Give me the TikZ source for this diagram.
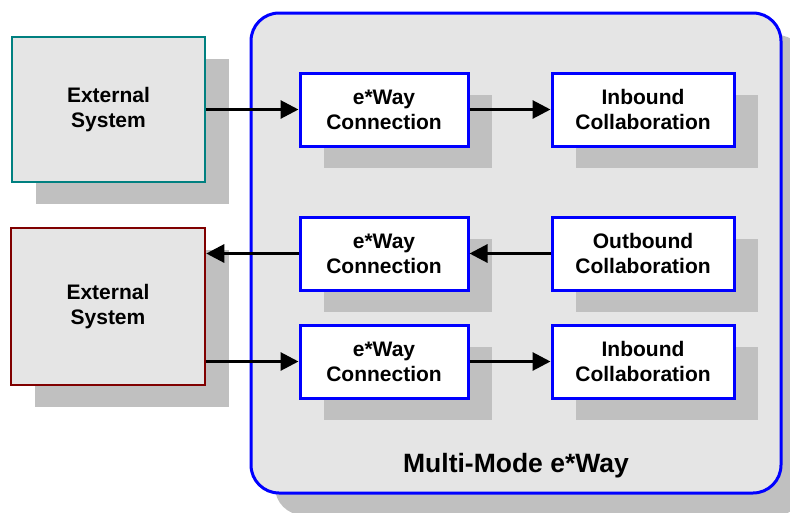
\documentclass[tikz,border=0pt]{standalone}
\usepackage{fontspec}
\setmainfont{Liberation Sans}
\usetikzlibrary{arrows.meta,positioning,shadows}
\definecolor{systeal}{RGB}{0,128,128}
\definecolor{sysred}{RGB}{128,0,0}
\definecolor{paneblue}{RGB}{0,0,255}
\definecolor{panegray}{RGB}{229,229,229}
\definecolor{shadegray}{RGB}{192,192,192}
\begin{document}
\begin{tikzpicture}[x=1pt,y=-1pt,
  shade/.style={drop shadow={shadow xshift=24pt,shadow yshift=-22pt,fill=shadegray,opacity=1}},
  extsys/.style={shade,draw,line width=2.5pt,fill=panegray,align=center,
    font=\fontsize{21}{25}\selectfont\bfseries},
  unit/.style={shade,draw=paneblue,line width=3pt,fill=white,align=center,
    minimum height=73pt,font=\fontsize{21}{25}\selectfont\bfseries},
  flow/.style={-{Triangle[length=18pt,width=18pt]},line width=3pt}]
\useasboundingbox (0,0) rectangle (790,512);
% outer e*Way pane
\node[shade,draw=paneblue,line width=3pt,fill=panegray,rounded corners=28pt,
  minimum width=530pt,minimum height=480pt] (pane) at (516,253) {};
\node[font=\fontsize{26.5}{30}\selectfont\bfseries] (panelabel) at (516,466) {Multi-Mode e*Way};
% external systems
\node[extsys,draw=systeal,minimum width=193pt,minimum height=145pt] (ext1) at (108.5,109.5) {External\\System};
\node[extsys,draw=sysred,minimum width=194pt,minimum height=157pt] (ext2) at (108,306.5) {External\\System};
% first row
\node[unit,minimum width=168pt] (conn1) at (384,109.5) {e*Way\\Connection};
\node[unit,minimum width=182pt] (inb1) at (643,109.5) {Inbound\\Collaboration};
% second row
\node[unit,minimum width=168pt] (conn2) at (384,253.5) {e*Way\\Connection};
\node[unit,minimum width=182pt] (outb2) at (643,253.5) {Outbound\\Collaboration};
% third row
\node[unit,minimum width=168pt] (conn3) at (384,361.5) {e*Way\\Connection};
\node[unit,minimum width=182pt] (inb3) at (643,361.5) {Inbound\\Collaboration};
% data flow
\draw[flow] (ext1) -- (conn1);
\draw[flow] (conn1) -- (inb1);
\draw[flow] (outb2) -- (conn2);
\draw[flow] (conn2) -- (conn2.west -| ext2.east);
\draw[flow] (conn3.west -| ext2.east) -- (conn3);
\draw[flow] (conn3) -- (inb3);
\end{tikzpicture}
\end{document}
